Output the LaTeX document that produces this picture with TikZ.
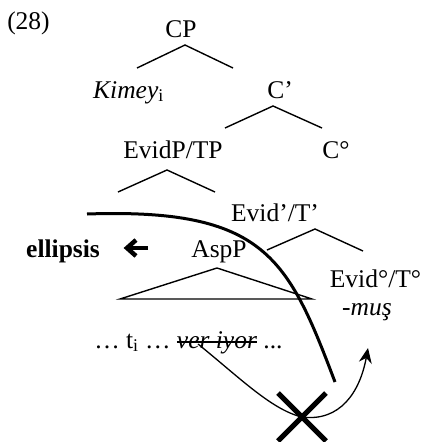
\documentclass[tikz,border=0pt]{standalone}
\usepackage{fontspec}
\setmainfont{Liberation Serif}
\usetikzlibrary{arrows.meta}
\begin{document}
\begin{tikzpicture}[x=1pt,y=-1pt,
  lbl/.style={anchor=base, inner sep=0pt, font=\fontsize{25.5}{30}\selectfont},
  br/.style={line width=1.4pt},
  thickcurve/.style={line width=3pt},
  thinline/.style={line width=1.3pt}]
\useasboundingbox (0,0) rectangle (423,442);
% labels
\node[lbl] (ex) at (28.5,29) {(28)};
\node[lbl] (cp) at (181,37) {CP};
\node[lbl,anchor=base west] (kim) at (93,98) {\textit{Kimey}\textsubscript{i}};
\node[lbl] (cbar) at (280,98) {C’};
\node[lbl] (evp) at (173,158) {EvidP/TP};
\node[lbl] (c0) at (336,158) {C°};
\node[lbl] (evbar) at (275,221) {Evid’/T’};
\node[lbl,anchor=base west] (ell) at (26,257) {\textbf{ellipsis}};
\node[lbl] (asp) at (219,257) {AspP};
\node[lbl] (ev0) at (375.5,287) {Evid°/T°};
\node[lbl] (mus) at (367,315) {\textit{-muş}};
\node[lbl] (vi) at (217,348) {\textit{ver iyor}};
\node[lbl,anchor=base east] (d1) at ([xshift=-6pt]vi.base west) {… t\textsubscript{i} …};
\node[lbl,anchor=base west] (d2) at ([xshift=6pt]vi.base east) {...};
% strike through
\draw[line width=1.2pt] ([yshift=6pt]vi.base west) -- ([yshift=6pt]vi.base east);
% tree branches
\coordinate (cpA) at (185,45); \coordinate (cpL) at (137,68); \coordinate (cpR) at (233,68);
\draw[br] (cpL) -- (cpA) -- (cpR);
\coordinate (cbA) at (273,106); \coordinate (cbL) at (225,128); \coordinate (cbR) at (322,128);
\draw[br] (cbL) -- (cbA) -- (cbR);
\coordinate (evA) at (167,170); \coordinate (evL) at (118,192); \coordinate (evR) at (215,192);
\draw[br] (evL) -- (evA) -- (evR);
\coordinate (ebA) at (315,229); \coordinate (ebL) at (267,250); \coordinate (ebR) at (363,251);
\draw[br] (ebL) -- (ebA) -- (ebR);
\coordinate (trA) at (217,268); \coordinate (trL) at (120,299); \coordinate (trR) at (312,299);
\draw[br] (trL) -- (trA) -- (trR) -- cycle;
% ellipsis arrow
\coordinate (arS) at (148,248); \coordinate (arT) at (127,248);
\draw[line width=4.5pt] (arS) -- ([xshift=3pt]arT);
\draw[line width=4.5pt, miter limit=10] (136,240) -- (arT) -- (136,256);
% thick curve
\coordinate (tcS) at (87,214); \coordinate (tcE) at (335,382);
\draw[thickcurve] (tcS) .. controls (265,208) and (288,258) .. (tcE);
% X mark
\coordinate (xc) at (302,417);
\draw[line width=5pt] ([shift={(-24,-24)}]xc) -- ([shift={(24,24)}]xc);
\draw[line width=5pt] ([shift={(24,-24)}]xc) -- ([shift={(-24,24)}]xc);
% movement arrow
\coordinate (mvS) at (198,344); \coordinate (mvE) at (368,348);
\draw[thinline, -{Stealth[length=15pt,width=13pt]}] (mvS) .. controls (240,378) and (272,410) .. (xc)
  .. controls (340,422) and (360,392) .. (mvE);
\end{tikzpicture}
\end{document}
